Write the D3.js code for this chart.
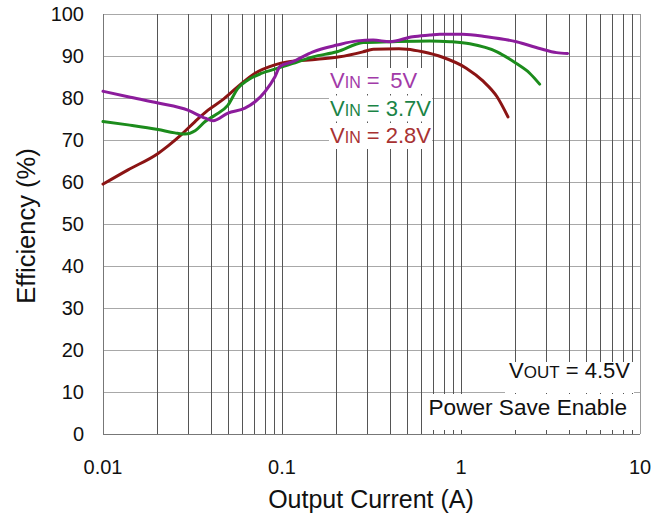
<!DOCTYPE html>
<html>
<head>
<meta charset="utf-8">
<script src="https://cdn.jsdelivr.net/npm/d3@7"></script>
<style>
  html, body { margin: 0; padding: 0; background: #fff; }
  svg { display: block; font-family: "Liberation Sans", Arial, sans-serif; }
</style>
</head>
<body>
<svg id="chart" width="657" height="519"></svg>
<script>
// Efficiency vs. output current, VOUT = 4.5 V, power save enabled
const xTicks = [0.01, 0.1, 1, 10];
const xTickLabels = ["0.01", "0.1", "1", "10"];
const yTicks = [0, 10, 20, 30, 40, 50, 60, 70, 80, 90, 100];

// VIN = 5 V
const current5V = [0.01, 0.0138, 0.0203, 0.0298, 0.0372, 0.0412, 0.0499, 0.0621, 0.0707, 0.0803, 0.0912, 0.0974, 0.114, 0.149, 0.203, 0.263, 0.323, 0.40, 0.537, 0.67, 0.76, 1.02, 1.39, 2.04, 2.75, 3.42, 3.94];
const eff5V     = [81.6, 80.3, 78.8, 77.1, 75.2, 74.6, 76.4, 77.6, 79.1, 81.5, 85.0, 87.5, 88.6, 91.0, 92.6, 93.6, 93.8, 93.4, 94.6, 95.0, 95.2, 95.2, 94.6, 93.4, 91.8, 90.8, 90.6];

// VIN = 3.7 V
const current3V7 = [0.01, 0.0138, 0.0203, 0.0252, 0.0287, 0.0327, 0.0372, 0.0422, 0.0499, 0.0567, 0.0645, 0.0772, 0.0948, 0.114, 0.149, 0.203, 0.284, 0.40, 0.67, 0.87, 1.12, 1.59, 2.04, 2.42, 2.75];
const eff3V7     = [74.4, 73.6, 72.5, 71.7, 71.4, 72.2, 74.4, 75.9, 78.3, 82.3, 84.3, 85.9, 87.1, 88.2, 89.8, 91.0, 93.2, 93.4, 93.6, 93.4, 92.9, 91.0, 88.2, 85.9, 83.3];

// VIN = 2.8 V
const current2V8 = [0.01, 0.0138, 0.0203, 0.0231, 0.0276, 0.0327, 0.0386, 0.0463, 0.0567, 0.0707, 0.0912, 0.107, 0.157, 0.210, 0.284, 0.323, 0.45, 0.50, 0.61, 0.79, 1.07, 1.33, 1.59, 1.83];
const eff2V8     = [59.5, 62.9, 66.8, 68.6, 71.4, 74.4, 77.1, 79.5, 82.7, 85.9, 87.9, 88.6, 89.2, 89.8, 91.0, 91.6, 91.7, 91.6, 91.0, 89.7, 87.1, 84.0, 80.3, 75.5];

const seriesNames  = ["VIN = 2.8V", "VIN = 3.7V", "VIN = 5V"];
const seriesColors = ["#8b1414", "#1c8c1c", "#8c1c9c"];
const labelColors  = ["#a83232", "#1a8446", "#a23aa8"];

const series = [
  { name: seriesNames[0], color: seriesColors[0], xs: current2V8, ys: eff2V8 },
  { name: seriesNames[1], color: seriesColors[1], xs: current3V7, ys: eff3V7 },
  { name: seriesNames[2], color: seriesColors[2], xs: current5V,  ys: eff5V }
];

const svg = d3.select("#chart");
const plotLeft = 103, plotRight = 640, plotTop = 14, plotBottom = 434;

const x = d3.scaleLog().domain([0.01, 10]).range([plotLeft, plotRight]);
const y = d3.scaleLinear().domain([0, 100]).range([plotBottom, plotTop]);

// vertical grid: every 1..9 within each decade
const vLines = [];
for (let d = 0.01; d < 10; d *= 10) {
  for (let k = 1; k <= 9; k++) vLines.push(+(k * d).toPrecision(3));
}
vLines.push(10);

const grid = svg.append("g").attr("shape-rendering", "crispEdges");
grid.selectAll("line.h").data(yTicks).join("line")
  .attr("class", "h")
  .attr("x1", plotLeft).attr("x2", plotRight)
  .attr("y1", d => Math.round(y(d)) + 0.5).attr("y2", d => Math.round(y(d)) + 0.5)
  .attr("stroke", "#a8a8a8").attr("stroke-width", 1);
grid.selectAll("line.v").data(vLines).join("line")
  .attr("class", "v")
  .attr("x1", d => Math.round(x(d)) + 0.5).attr("x2", d => Math.round(x(d)) + 0.5)
  .attr("y1", plotTop).attr("y2", plotBottom)
  .attr("stroke", d => (d === 0.01 || d === 10) ? "#888" : "#555").attr("stroke-width", 1);

// bottom and left axis lines
svg.append("line").attr("x1", plotLeft).attr("x2", plotRight).attr("y1", plotBottom + 0.5).attr("y2", plotBottom + 0.5)
  .attr("stroke", "#777").attr("shape-rendering", "crispEdges");
svg.append("line").attr("x1", plotLeft + 0.5).attr("x2", plotLeft + 0.5).attr("y1", plotTop).attr("y2", plotBottom)
  .attr("stroke", "#777").attr("shape-rendering", "crispEdges");

// curves
const line = d3.line().x(d => x(d[0])).y(d => y(d[1])).curve(d3.curveMonotoneX);
svg.append("g").selectAll("path").data(series).join("path")
  .attr("d", s => line(d3.zip(s.xs, s.ys)))
  .attr("fill", "none")
  .attr("stroke", s => s.color)
  .attr("stroke-width", 3)
  .attr("stroke-linejoin", "round")
  .attr("stroke-linecap", "round");

// tick labels
svg.append("g").selectAll("text").data(yTicks).join("text")
  .attr("x", 84).attr("y", d => y(d))
  .attr("dy", "0.36em")
  .attr("text-anchor", "end")
  .attr("font-size", 20).attr("fill", "#111")
  .text(d => d);
svg.append("g").selectAll("text").data(xTicks).join("text")
  .attr("x", d => x(d)).attr("y", 474)
  .attr("text-anchor", "middle")
  .attr("font-size", 20).attr("fill", "#111")
  .text((d, i) => xTickLabels[i]);

// axis titles
svg.append("text")
  .attr("x", 371).attr("y", 508)
  .attr("text-anchor", "middle").attr("font-size", 25).attr("fill", "#111")
  .text("Output Current (A)");
svg.append("text")
  .attr("transform", "translate(35,226) rotate(-90)")
  .attr("text-anchor", "middle").attr("font-size", 25.5).attr("fill", "#111")
  .text("Efficiency (%)");

// series labels with white backing
const legendRows = [
  { idx: 2, value: "5V",   shift: 4.5 },
  { idx: 1, value: "3.7V", shift: 0 },
  { idx: 0, value: "2.8V", shift: 0 }
];
const legend = svg.append("g");
legendRows.forEach((r, i) => {
  const base = 88 + i * 27.5;
  legend.append("rect")
    .attr("x", 329).attr("y", base - 20).attr("width", 103).attr("height", 26)
    .attr("fill", "#fff");
});
legendRows.forEach((r, i) => {
  const base = 88 + i * 27.5;
  const t = legend.append("text")
    .attr("x", 330).attr("y", base)
    .attr("font-size", 22).attr("fill", labelColors[r.idx])
    .attr("xml:space", "preserve");
  t.append("tspan").text("V");
  t.append("tspan").attr("font-size", 16).text("IN");
  t.append("tspan").text(" = ");
  t.append("tspan").attr("dx", r.shift).text(r.value);
});

// operating conditions box
const notes = svg.append("g");
notes.append("rect").attr("x", 505).attr("y", 362).attr("width", 129).attr("height", 31).attr("fill", "#fff");
notes.append("rect").attr("x", 424).attr("y", 394).attr("width", 210).attr("height", 36).attr("fill", "#fff");
const vout = notes.append("text")
  .attr("x", 630).attr("y", 378)
  .attr("text-anchor", "end").attr("font-size", 22).attr("fill", "#111");
vout.append("tspan").text("V");
vout.append("tspan").attr("font-size", 17).text("OUT");
vout.append("tspan").text(" = 4.5V");
notes.append("text")
  .attr("x", 627).attr("y", 415)
  .attr("text-anchor", "end").attr("font-size", 22.6).attr("fill", "#111")
  .text("Power Save Enable");

// right frame edge
svg.append("line").attr("x1", plotRight + 0.5).attr("x2", plotRight + 0.5).attr("y1", plotTop).attr("y2", plotBottom)
  .attr("stroke", "#999").attr("shape-rendering", "crispEdges");
</script>
</body>
</html>
